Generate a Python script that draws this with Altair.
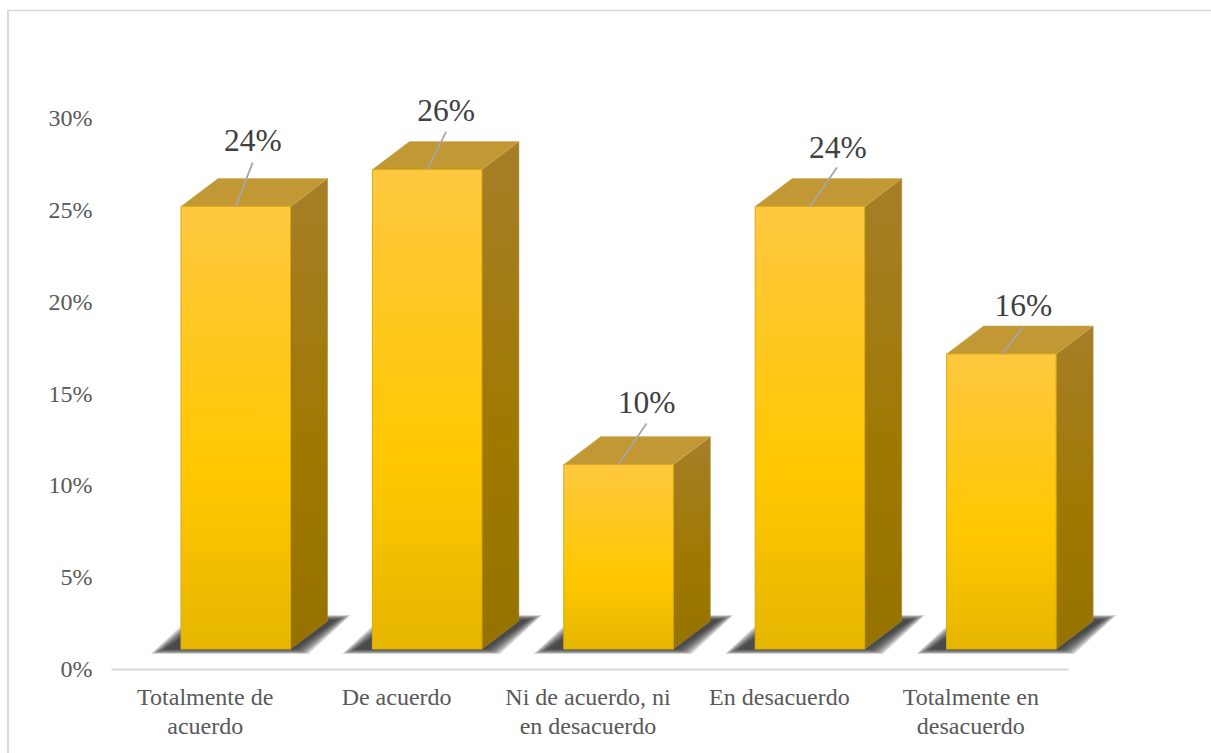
import altair as alt
import pandas as pd

# Survey answers and their share of responses
categories = ["Totalmente de acuerdo", "De acuerdo", "Ni de acuerdo, ni en desacuerdo",
              "En desacuerdo", "Totalmente en desacuerdo"]
axis_lines = [["Totalmente de", "acuerdo"], ["De acuerdo"], ["Ni de acuerdo, ni", "en desacuerdo"],
              ["En desacuerdo"], ["Totalmente en", "desacuerdo"]]
values = [24, 26, 10, 24, 16]

# Plot area in pixels, used to express the 3D extrusion in scale units
PLOT_W, PLOT_H = 957, 551
Y_MAX = 30
px_x = 5 / PLOT_W
px_y = Y_MAX / PLOT_H

# Extrusion geometry of each column
FRONT_LEFT = 70 * px_x      # gap between slot start and front face
FRONT_W = 109.5 * px_x
DEPTH_X = 37 * px_x
DEPTH_Y = 28 * px_y
FLOOR = 20 * px_y           # columns stand above the axis line
FRONT_SCALE = 1.004         # the front plane sits slightly nearer than the axis plane

# Callout offset from the front-top centre: leader end and label centre
callouts = [(17, 44, 17, 64), (19, 38, 19, 58), (28, 41, 28, 61), (27, 39, 28, 57), (22, 27, 22, 47)]

shadow, side, top, front, leader, labels = [], [], [], [], [], []
for i, (name, v) in enumerate(zip(categories, values)):
    x0 = i - 0.5 + FRONT_LEFT
    x1 = x0 + FRONT_W
    base = FLOOR
    head = FLOOR + v * FRONT_SCALE
    front.append({"cat": name, "x": x0, "x2": x1, "y": base, "y2": head})

    for px, low, high in [(x1, base, head), (x1 + DEPTH_X, base + DEPTH_Y, head + DEPTH_Y)]:
        side.append({"cat": name, "x": px, "y": low, "y2": high})

    for px, low, high in [(x0, head, head), (x0 + DEPTH_X, head, head + DEPTH_Y),
                          (x1, head, head + DEPTH_Y), (x1 + DEPTH_X, head + DEPTH_Y, head + DEPTH_Y)]:
        top.append({"cat": name, "x": px, "y": low, "y2": high})

    # Soft floor shadow: nested parallelograms that build up towards the core
    for level in range(12):
        grow_x = level * 1.3 * px_x
        grow_y = level * 0.45 * px_y
        lo = base - grow_y
        hi = base + 29 * px_y + grow_y
        sx0 = x0 - 16 * px_x - grow_x
        sx1 = x1 + 4 * px_x + grow_x
        run = 42 * px_x
        key = f"{i}-{level}"
        for px, low, high in [(sx0, lo, lo), (sx0 + run, lo, hi), (sx1, lo, hi), (sx1 + run, hi, hi)]:
            shadow.append({"key": key, "x": px, "y": low, "y2": high})

    cx = (x0 + x1) / 2
    lead_dx, lead_dy, text_dx, text_dy = callouts[i]
    leader.append({"cat": name, "x": cx, "y": head})
    leader.append({"cat": name, "x": cx + lead_dx * px_x, "y": head + lead_dy * px_y})
    labels.append({"x": cx + text_dx * px_x, "y": head + text_dy * px_y, "label": f"{v}%"})

x_scale = alt.Scale(domain=[-0.5, 4.5], nice=False, zero=False)
y_scale = alt.Scale(domain=[0, Y_MAX], nice=False)
FONT = "Liberation Serif"

label_lookup = "[" + ",".join(
    "[" + ",".join(f"'{line}'" for line in lines) + "]" for lines in axis_lines
) + "][datum.value]"

x_axis = alt.Axis(
    values=list(range(len(categories))), labelExpr=label_lookup, ticks=False, grid=False, title=None,
    domainColor="#D9D9D9", domainWidth=2, labelFont=FONT, labelFontSize=24,
    labelColor="#595959", labelLineHeight=29, labelPadding=16, labelOffset=-2, labelAngle=0,
    labelBaseline="top", labelOverlap=False, labelBound=False, labelFlush=False)
y_axis = alt.Axis(
    values=list(range(0, Y_MAX + 1, 5)), labelExpr="datum.value + '%'", ticks=False, grid=False, title=None,
    domain=False, labelFont=FONT, labelFontSize=24, labelColor="#595959", labelPadding=19, labelOffset=0.5)


def gradient(*stops):
    return alt.Gradient(gradient="linear", x1=0, x2=0, y1=0, y2=1,
                        stops=[alt.GradientStop(color=c, offset=o) for c, o in stops])


def xe():
    return alt.X("x:Q", scale=x_scale, axis=x_axis)


def ye():
    return alt.Y("y:Q", scale=y_scale, axis=y_axis, stack=None)


shadow_layer = alt.Chart(pd.DataFrame(shadow)).mark_area(color="#2e2e2e", opacity=0.14).encode(
    x=xe(), y=ye(), y2="y2:Q", detail="key:N"
)

side_layer = alt.Chart(pd.DataFrame(side)).mark_area(
    color=gradient(("#A67E28", 0), ("#9F7800", 0.6), ("#957300", 1)), stroke="#A98A30", strokeWidth=0.6
).encode(x=xe(), y=ye(), y2="y2:Q", detail="cat:N")

top_layer = alt.Chart(pd.DataFrame(top)).mark_area(
    color="#C29835", stroke="#D2B060", strokeWidth=0.6
).encode(x=xe(), y=ye(), y2="y2:Q", detail="cat:N")

front_layer = alt.Chart(pd.DataFrame(front)).mark_rect(
    fill=gradient(("#FFC840", 0), ("#FFC800", 0.6), ("#E6B600", 1)), stroke="#D9AA10", strokeWidth=1
).encode(x=xe(), x2="x2:Q", y=ye(), y2="y2:Q")

leader_layer = alt.Chart(pd.DataFrame(leader)).mark_line(color="#A6A6A6", strokeWidth=1.8).encode(
    x=xe(), y=ye(), detail="cat:N"
)

label_layer = alt.Chart(pd.DataFrame(labels)).mark_text(
    font=FONT, fontSize=31.5, color="#404040", align="center", baseline="middle"
).encode(x=xe(), y=ye(), text="label:N")

# Frame of the chart area: only its top and left edges fall inside the page
blank = alt.Data(values=[{}])
frame_top = alt.Chart(blank).mark_rule(color="#D9D9D9", strokeWidth=1.5).encode(
    x=alt.value(8 - 111), x2=alt.value(1211 - 111), y=alt.value(10.5 - 118)
)
frame_left = alt.Chart(blank).mark_rule(color="#D9D9D9", strokeWidth=2).encode(
    x=alt.value(8 - 111), y=alt.value(10 - 118), y2=alt.value(753 - 118)
)

chart = alt.layer(
    frame_top, frame_left, shadow_layer, side_layer, top_layer, front_layer, leader_layer, label_layer
).properties(
    width=PLOT_W, height=PLOT_H,
    padding={"left": 111, "top": 118, "right": 143, "bottom": 84},
    autosize=alt.AutoSizeParams(type="none"),
    background="white",
).configure_view(stroke=None)

chart.save("out.html", embed_options={"renderer": "svg", "actions": False})
